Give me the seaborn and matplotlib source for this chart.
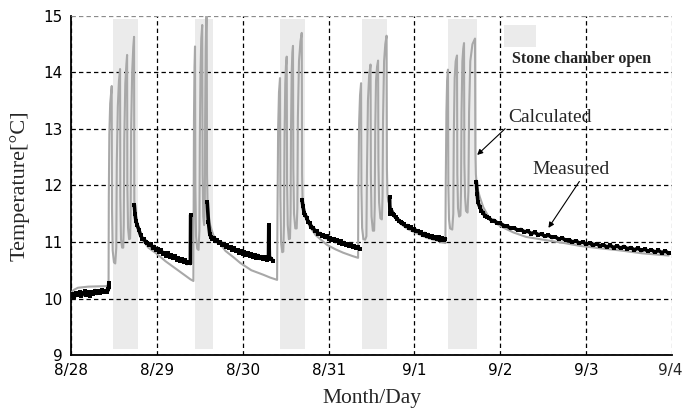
import numpy as np
import pandas as pd
import matplotlib
matplotlib.use("Agg")
import matplotlib.pyplot as plt
import seaborn as sns

# ---- data -------------------------------------------------------------
day_labels = ["8/28", "8/29", "8/30", "8/31", "9/1", "9/2", "9/3", "9/4"]
temp_ticks = [9, 10, 11, 12, 13, 14, 15]

# periods with the stone chamber door open (days since 8/28 0:00)
open_start = [0.485, 1.440, 2.435, 3.390, 4.385]
open_end = [0.778, 1.655, 2.730, 3.685, 4.730]

# simulated temperature
calc_day = [
    0.000, 0.030, 0.080, 0.200, 0.437,
    0.440, 0.446, 0.456, 0.474, 0.477, 0.485, 0.500, 0.515, 0.527, 0.533,
    0.545, 0.558, 0.571, 0.574, 0.582, 0.595, 0.608, 0.614, 0.620, 0.632,
    0.645, 0.653, 0.656, 0.664, 0.676, 0.688, 0.694, 0.700, 0.712, 0.725,
    0.734, 0.737, 0.745, 0.760, 0.780, 0.830, 0.900, 1.000, 1.100, 1.190,
    1.300, 1.390, 1.425,
    1.428, 1.432, 1.438, 1.444, 1.448, 1.456, 1.470, 1.485, 1.495, 1.500,
    1.508, 1.517, 1.528, 1.532, 1.540, 1.550, 1.558, 1.562, 1.568, 1.574,
    1.580, 1.584, 1.590, 1.600, 1.620, 1.657, 1.730, 1.800, 1.900, 1.970,
    2.100, 2.240, 2.320, 2.400,
    2.405, 2.412, 2.422, 2.434, 2.438, 2.446, 2.460, 2.472, 2.480, 2.486,
    2.495, 2.503, 2.512, 2.516, 2.524, 2.537, 2.550, 2.557, 2.562, 2.570,
    2.578, 2.585, 2.589, 2.597, 2.612, 2.628, 2.636, 2.642, 2.655, 2.672,
    2.687, 2.691, 2.697, 2.710, 2.740, 2.780, 2.850, 2.980, 3.080, 3.170,
    3.280, 3.343,
    3.347, 3.355, 3.366, 3.378, 3.382, 3.390, 3.405, 3.425, 3.440, 3.447,
    3.458, 3.472, 3.488, 3.492, 3.500, 3.515, 3.530, 3.537, 3.543, 3.552,
    3.564, 3.576, 3.580, 3.588, 3.603, 3.620, 3.628, 3.634, 3.646, 3.660,
    3.675, 3.679, 3.685, 3.695, 3.735, 3.780, 3.830, 3.920, 4.000, 4.150,
    4.360,
    4.364, 4.372, 4.380, 4.390, 4.394, 4.402, 4.415, 4.440, 4.452, 4.458,
    4.468, 4.480, 4.495, 4.499, 4.507, 4.520, 4.535, 4.542, 4.548, 4.558,
    4.568, 4.577, 4.581, 4.589, 4.600, 4.618, 4.628, 4.636, 4.650, 4.675,
    4.705, 4.709, 4.715, 4.725, 4.760, 4.800, 4.850, 4.900, 5.000, 5.150,
    5.300, 5.500, 5.750, 5.930, 6.150, 6.400, 6.650, 6.960,
]
calc_temp = [
    10.10, 10.15, 10.19, 10.21, 10.22,
    11.80, 12.90, 13.45, 13.76, 11.60, 10.85, 10.64, 10.62, 10.90, 12.40,
    13.40, 13.85, 14.06, 11.80, 11.05, 10.90, 10.90, 11.30, 12.80, 13.80,
    14.15, 14.31, 12.00, 11.25, 11.05, 11.06, 11.50, 13.00, 14.00, 14.45,
    14.63, 11.75, 11.50, 11.35, 11.22, 11.04, 10.90, 10.79, 10.66, 10.56,
    10.44, 10.34, 10.31,
    11.50, 13.20, 14.10, 14.46, 12.00, 11.10, 10.88, 10.86, 11.20, 12.80,
    14.00, 14.60, 14.84, 12.20, 11.45, 11.30, 11.60, 13.20, 14.40, 14.90,
    15.05, 12.20, 11.70, 11.52, 11.30, 11.12, 10.98, 10.84, 10.72, 10.63,
    10.50, 10.42, 10.37, 10.33,
    11.60, 13.00, 13.65, 13.90, 11.80, 11.00, 10.82, 10.83, 11.30, 12.80,
    13.80, 14.12, 14.28, 12.10, 11.30, 11.05, 11.06, 11.50, 13.00, 14.00,
    14.35, 14.47, 12.30, 11.50, 11.24, 11.24, 11.60, 13.20, 14.20, 14.55,
    14.70, 12.20, 11.72, 11.55, 11.40, 11.27, 11.12, 10.95, 10.87, 10.81,
    10.75, 10.72,
    12.00, 13.10, 13.60, 13.81, 11.90, 11.25, 11.05, 11.04, 11.10, 12.30,
    13.50, 13.95, 14.14, 12.20, 11.45, 11.20, 11.20, 11.60, 13.00, 13.85,
    14.10, 14.21, 12.40, 11.70, 11.42, 11.40, 11.80, 13.20, 14.20, 14.50,
    14.65, 12.30, 11.85, 11.72, 11.58, 11.45, 11.33, 11.23, 11.17, 11.07,
    10.98,
    12.00, 13.30, 13.85, 14.05, 12.00, 11.40, 11.24, 11.22, 11.50, 12.90,
    13.90, 14.20, 14.30, 12.20, 11.60, 11.45, 11.47, 11.90, 13.30, 14.20,
    14.42, 14.52, 12.40, 11.80, 11.55, 11.52, 11.90, 13.30, 14.20, 14.50,
    14.60, 12.60, 12.20, 12.00, 11.80, 11.62, 11.48, 11.38, 11.28, 11.17,
    11.09, 11.04, 10.98, 10.93, 10.89, 10.85, 10.80, 10.76,
]

# logged temperature (no record while the door is open)
meas_day = [
    0.000, 0.020, 0.040, 0.060, 0.080, 0.100, 0.120, 0.140, 0.160, 0.180,
    0.200, 0.220, 0.240, 0.260, 0.280, 0.300, 0.320, 0.340, 0.360, 0.380,
    0.400, 0.420, 0.435, 0.440, 0.445,
    0.737, 0.745, 0.755, 0.770, 0.790, 0.810, 0.830, 0.850, 0.870, 0.890,
    0.910, 0.930, 0.950, 0.970, 0.990, 1.010, 1.030, 1.050, 1.070, 1.090,
    1.110, 1.130, 1.150, 1.170, 1.190, 1.210, 1.230, 1.250, 1.270, 1.290,
    1.310, 1.330, 1.350, 1.370, 1.390, 1.393,
    1.587, 1.600, 1.615, 1.630, 1.645, 1.660, 1.680, 1.700, 1.720, 1.740,
    1.760, 1.780, 1.800, 1.820, 1.840, 1.860, 1.880, 1.900, 1.920, 1.940,
    1.960, 1.980, 2.000, 2.020, 2.040, 2.060, 2.080, 2.100, 2.120, 2.140,
    2.160, 2.180, 2.200, 2.220, 2.240, 2.260, 2.280, 2.300, 2.303, 2.310,
    2.330, 2.350,
    2.690, 2.700, 2.715, 2.730, 2.745, 2.760, 2.780, 2.800, 2.820, 2.840,
    2.860, 2.880, 2.900, 2.920, 2.940, 2.960, 2.980, 3.000, 3.020, 3.040,
    3.060, 3.080, 3.100, 3.120, 3.140, 3.160, 3.180, 3.200, 3.220, 3.240,
    3.260, 3.280, 3.300, 3.320, 3.340, 3.360,
    3.710, 3.714, 3.730, 3.745, 3.760, 3.780, 3.800, 3.820, 3.840, 3.860,
    3.880, 3.900, 3.920, 3.940, 3.960, 3.980, 4.000, 4.020, 4.040, 4.060,
    4.080, 4.100, 4.120, 4.140, 4.160, 4.180, 4.200, 4.220, 4.240, 4.260,
    4.280, 4.300, 4.320, 4.340, 4.360,
    4.720, 4.730, 4.740, 4.760, 4.780, 4.800, 4.820, 4.840, 4.870, 4.900,
    4.930, 4.960, 5.000, 5.040, 5.080, 5.120, 5.160, 5.200, 5.240, 5.280,
    5.320, 5.360, 5.400, 5.440, 5.480, 5.520, 5.560, 5.600, 5.640, 5.680,
    5.720, 5.760, 5.800, 5.840, 5.880, 5.920, 5.960, 6.000, 6.040, 6.080,
    6.120, 6.160, 6.200, 6.240, 6.280, 6.320, 6.360, 6.400, 6.440, 6.480,
    6.520, 6.560, 6.600, 6.640, 6.680, 6.720, 6.760, 6.800, 6.840, 6.880,
    6.920, 6.960,
]
meas_temp = [
    10.05, 10.08, 10.03, 10.10, 10.06, 10.12, 10.04, 10.09, 10.13, 10.07,
    10.11, 10.05, 10.12, 10.08, 10.14, 10.09, 10.13, 10.10, 10.15, 10.11,
    10.14, 10.12, 10.16, 10.28, 10.20,
    11.66, 11.50, 11.38, 11.30, 11.22, 11.12, 11.06, 11.05, 11.00, 10.98,
    10.95, 10.96, 10.90, 10.92, 10.86, 10.88, 10.83, 10.85, 10.79, 10.81,
    10.76, 10.80, 10.74, 10.77, 10.72, 10.75, 10.69, 10.72, 10.67, 10.70,
    10.64, 10.68, 10.62, 10.65, 10.62, 11.48,
    11.70, 11.35, 11.15, 11.08, 11.05, 11.07, 11.02, 11.04, 10.98, 11.00,
    10.95, 10.97, 10.92, 10.94, 10.89, 10.91, 10.86, 10.89, 10.84, 10.86,
    10.81, 10.84, 10.79, 10.82, 10.77, 10.80, 10.75, 10.78, 10.73, 10.77,
    10.72, 10.76, 10.71, 10.74, 10.70, 10.73, 10.69, 10.72, 11.30, 10.74,
    10.70, 10.67,
    11.75, 11.64, 11.52, 11.47, 11.43, 11.36, 11.33, 11.27, 11.25, 11.20,
    11.19, 11.14, 11.15, 11.11, 11.12, 11.08, 11.10, 11.05, 11.07, 11.03,
    11.05, 11.01, 11.03, 10.99, 11.01, 10.97, 10.99, 10.95, 10.97, 10.93,
    10.95, 10.91, 10.93, 10.89, 10.91, 10.88,
    11.80, 11.50, 11.56, 11.50, 11.47, 11.44, 11.40, 11.38, 11.35, 11.33,
    11.31, 11.28, 11.29, 11.25, 11.26, 11.22, 11.23, 11.19, 11.20, 11.16,
    11.17, 11.13, 11.15, 11.11, 11.13, 11.09, 11.11, 11.07, 11.09, 11.05,
    11.08, 11.04, 11.07, 11.03, 11.06,
    12.07, 11.85, 11.70, 11.62, 11.55, 11.52, 11.46, 11.45, 11.42, 11.38,
    11.38, 11.34, 11.33, 11.29, 11.28, 11.24, 11.25, 11.21, 11.22, 11.18,
    11.19, 11.15, 11.17, 11.13, 11.14, 11.10, 11.12, 11.08, 11.09, 11.05,
    11.07, 11.03, 11.04, 11.00, 11.02, 10.98, 11.00, 10.96, 10.98, 10.94,
    10.97, 10.93, 10.95, 10.91, 10.94, 10.90, 10.93, 10.89, 10.92, 10.88,
    10.90, 10.86, 10.89, 10.85, 10.87, 10.84, 10.86, 10.82, 10.85, 10.81,
    10.84, 10.80,
]

# ---- frames -----------------------------------------------------------
calc = pd.DataFrame({"day": calc_day, "temp": calc_temp})
meas = pd.DataFrame({"day": meas_day, "temp": meas_temp})
meas["seg"] = np.concatenate([[0], np.cumsum(np.diff(meas["day"]) > 0.1)])

# ---- figure -----------------------------------------------------------
sns.set_style("white")
plt.rcParams["font.family"] = ["DejaVu Sans"]
serif = ["Liberation Serif", "DejaVu Serif"]

fig = plt.figure(figsize=(6.83, 4.13), dpi=100)
ax = fig.add_axes([0.104, 0.1404, 0.880, 0.821])

ymin, ymax = 9, 15
for s, e in zip(open_start, open_end):
    ax.axvspan(s, e, ymin=(9.1 - ymin) / (ymax - ymin),
               ymax=(14.95 - ymin) / (ymax - ymin),
               color="#ebebeb", lw=0, zorder=0)

sns.lineplot(data=calc, x="day", y="temp", sort=False, estimator=None,
             color="#a8a8a8", lw=1.5, ax=ax, zorder=3, legend=False)
sns.lineplot(data=meas, x="day", y="temp", units="seg", sort=False,
             estimator=None, color="black", lw=2.6, marker="s",
             markersize=3.4, markeredgewidth=0, ax=ax, zorder=4,
             legend=False)

ax.set_xlim(0, 7)
ax.set_ylim(ymin, ymax)
ax.set_xticks(range(len(day_labels)))
# the last date sits on the figure edge, so it is placed separately
ax.set_xticklabels(day_labels[:-1] + [""])
ax.set_yticks(temp_ticks)
ax.tick_params(axis="both", direction="in", length=4, width=1,
               labelsize=11, colors="black")
ax.tick_params(axis="x", pad=6)
ax.tick_params(axis="y", pad=6)
ax.annotate(day_labels[-1], xy=(len(day_labels) - 1, ymin),
            xytext=(7.5, -6.0), textcoords="offset points",
            ha="right", va="top", fontsize=11, annotation_clip=False)

ax.grid(True, color="black", lw=0.9, linestyle=(0, (3.5, 2.5)), zorder=1)
ax.set_axisbelow(False)
ax.yaxis.get_gridlines()[-1].set_color("#8c8c8c")
ax.xaxis.get_gridlines()[-1].set_color("#8c8c8c")
for side in ("top", "right"):
    ax.spines[side].set_visible(False)
for side in ("left", "bottom"):
    ax.spines[side].set_color("black")
    ax.spines[side].set_linewidth(1.3)

ax.set_xlabel("Month/Day", family=serif, fontsize=15.5, labelpad=8)
ax.set_ylabel("Temperature[°C]", family=serif, fontsize=16, labelpad=10)

# legend-like key for the shaded periods
ax.add_patch(plt.Rectangle((5.04, 14.45), 0.38, 0.39, color="#ebebeb",
                           lw=0, zorder=2))
ax.text(5.14, 14.24, "Stone chamber open", family=serif, fontsize=11.5,
        fontweight="bold", ha="left", va="center", zorder=5)

arrow = dict(arrowstyle="-|>", color="black", lw=0.8, mutation_scale=8,
             shrinkA=0, shrinkB=0)
ax.annotate("Calculated", xy=(4.73, 12.54), xytext=(5.58, 13.21),
            family=serif, fontsize=14, ha="center", va="center",
            arrowprops=dict(arrow, relpos=(0.0, 0.0)), zorder=6)
ax.annotate("Measured", xy=(5.56, 11.25), xytext=(5.82, 12.28),
            family=serif, fontsize=14, ha="center", va="center",
            arrowprops=dict(arrow, relpos=(0.64, 0.0)), zorder=6)

fig.savefig("out.png", dpi=100)
